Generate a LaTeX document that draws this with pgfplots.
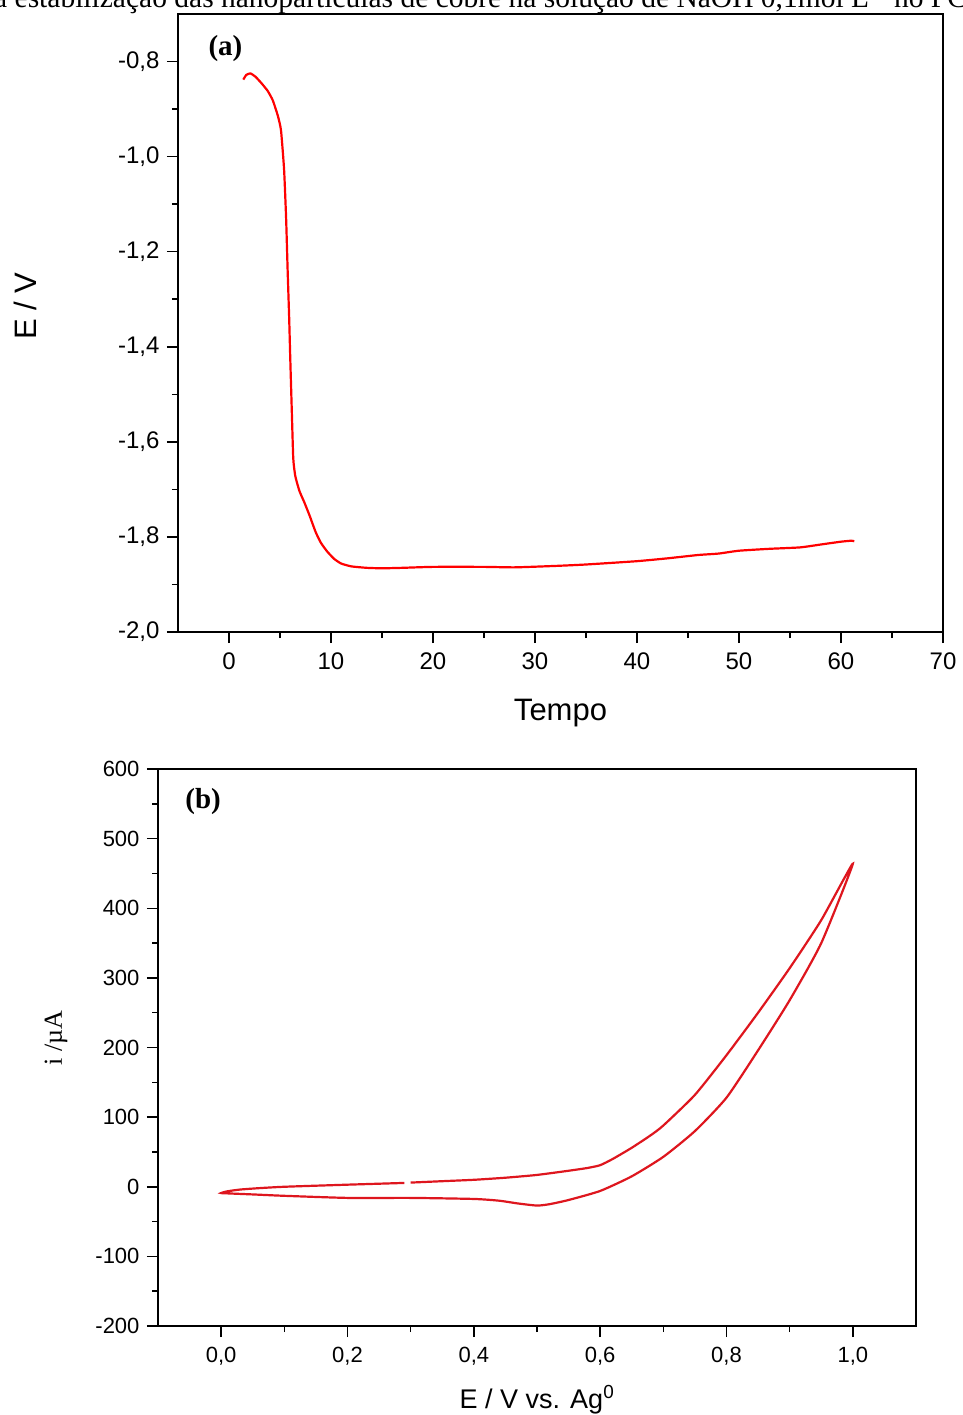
\documentclass[border=0pt]{standalone}
\usepackage{fontspec}
\setmainfont{Liberation Sans}
\newfontfamily\serif{Liberation Serif}
\usepackage{pgfplots}
\pgfplotsset{compat=1.18}

\pgfplotsset{
  painel/.style={
    scale only axis,
    axis line style={line width=1.8pt},
    every tick/.style={line width=1.5pt, black},
    tick align=outside,
    tick pos=left,
    major tick length=11pt,
    minor tick length=6pt,
    minor x tick num=1,
    minor y tick num=1,
    /pgf/number format/assume math mode=true,
    /pgf/number format/use comma,
    clip=true,
  },
}

\begin{document}
\begin{tikzpicture}

% linha de legenda cortada no topo da pagina
\node[anchor=base west, inner sep=0pt, font=\serif\fontsize{29.5}{29.5}\selectfont]
  at (-6pt,-8pt) {a estabilização das nanopartículas de cobre na solução de NaOH 0,1mol L\textsuperscript{-1} no PC};

% (a) potencial vs tempo
\begin{axis}[
  painel,
  at={(178pt,-632pt)}, anchor=south west,
  width=765pt, height=618pt,
  xmin=-5, xmax=70, ymin=-2.0, ymax=-0.7,
  xtick={0,10,...,70},
  ytick={-2.0,-1.8,-1.6,-1.4,-1.2,-1.0,-0.8},
  yticklabel style={/pgf/number format/fixed, /pgf/number format/fixed zerofill, /pgf/number format/precision=1, xshift=-4pt},
  xticklabel style={yshift=-6pt},
  ticklabel style={font=\fontsize{24}{24}\selectfont},
  xlabel={Tempo},
  ylabel={E / V},
  xlabel style={font=\fontsize{31}{31}\selectfont, at={(axis description cs:0.5,0)}, anchor=base, yshift=-88pt},
  ylabel style={font=\fontsize{31}{31}\selectfont, at={(axis description cs:0,0.5275)}, anchor=base, yshift=141pt},
]
\addplot[red, line width=2.2pt, smooth, tension=0.3] coordinates {
  (1.4,-0.838) (1.7,-0.828) (2.1,-0.825) (2.6,-0.832) (3.2,-0.846) (3.8,-0.862)
  (4.3,-0.882) (4.8,-0.915) (5.1,-0.945) (5.4,-1.027) (5.6,-1.13) (5.75,-1.24)
  (5.9,-1.34) (6.0,-1.42) (6.15,-1.53) (6.3,-1.635) (6.5,-1.672) (6.9,-1.703)
  (7.4,-1.728) (7.9,-1.755) (8.5,-1.79) (9.0,-1.812) (9.6,-1.83) (10.3,-1.846)
  (11.0,-1.856) (12.0,-1.862) (13.5,-1.865) (15.0,-1.866) (17,-1.865) (20,-1.863)
  (25,-1.863) (28,-1.864) (32,-1.861) (35,-1.858) (40,-1.851) (43,-1.845)
  (46,-1.838) (48,-1.835) (50,-1.829) (53,-1.825) (56,-1.822) (58,-1.816)
  (60,-1.810) (61,-1.808) (61.3,-1.809)
};
\node[font=\serif\bfseries\fontsize{29}{29}\selectfont, anchor=base] at (axis cs:-0.35,-0.787) {(a)};
\end{axis}

% (b) voltametria ciclica
\begin{axis}[
  painel,
  at={(158pt,-1326pt)}, anchor=south west,
  width=758pt, height=557pt,
  xmin=-0.1, xmax=1.1, ymin=-200, ymax=600,
  xtick={0,0.2,...,1.0},
  ytick={-200,-100,...,600},
  xticklabel style={/pgf/number format/fixed, /pgf/number format/fixed zerofill, /pgf/number format/precision=1, yshift=-7pt},
  yticklabel style={/pgf/number format/fixed, /pgf/number format/precision=0, xshift=-4pt},
  ticklabel style={font=\fontsize{22}{22}\selectfont},
  xlabel={E / V vs. Ag\textsuperscript{0}},
  ylabel={\serif i /\textmu A},
  xlabel style={font=\fontsize{27}{27}\selectfont, at={(axis description cs:0.5,0)}, anchor=base, yshift=-82pt},
  ylabel style={font=\fontsize{26}{26}\selectfont, at={(axis description cs:0,0.517)}, anchor=base, yshift=96pt},
]
\addplot[color={rgb,255:red,222;green,22;blue,30}, line width=2.2pt, smooth, tension=0.35] coordinates {
  (0.30,6) (0.35,8) (0.40,10) (0.45,13) (0.50,17) (0.55,23) (0.58,27) (0.60,31)
  (0.62,40) (0.65,56) (0.68,74) (0.70,88) (0.75,132) (0.80,189) (0.85,250)
  (0.90,314) (0.95,383) (1.00,464)
  (0.95,350) (0.90,268) (0.85,196) (0.80,128) (0.75,80) (0.70,43) (0.65,15)
  (0.60,-6) (0.55,-19) (0.52,-25) (0.50,-27) (0.47,-24) (0.44,-20) (0.40,-17.5)
  (0.30,-16) (0.20,-16) (0.10,-13) (0.05,-11) (0.01,-9.5) (0,-9)
  (0.01,-6.5) (0.03,-4) (0.06,-2) (0.10,0) (0.20,3) (0.29,5.5)
};
\node[font=\serif\bfseries\fontsize{29}{29}\selectfont, anchor=base] at (axis cs:-0.0285,544) {(b)};
\end{axis}

\pgfresetboundingbox
\path[use as bounding box] (0,0) rectangle (962pt,-1415pt);
\end{tikzpicture}
\end{document}
